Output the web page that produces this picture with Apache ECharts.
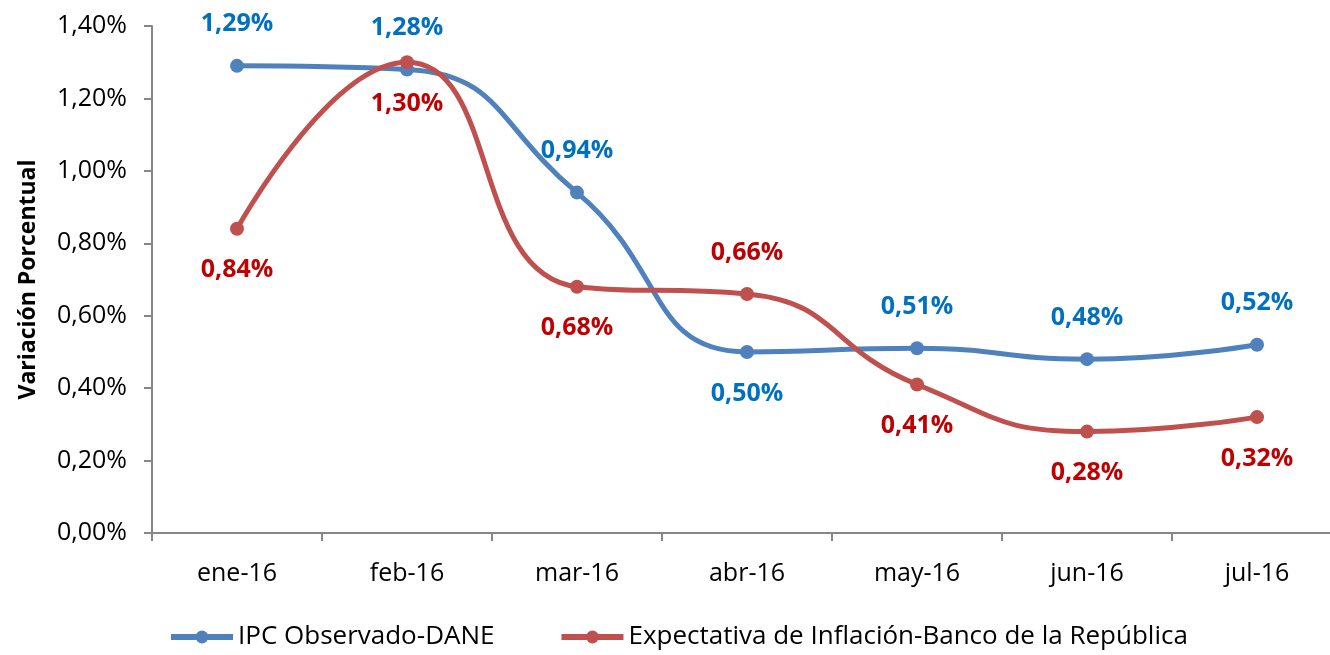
<!DOCTYPE html>
<html>
<head>
<meta charset="utf-8">
<script src="https://cdn.jsdelivr.net/npm/echarts@6/dist/echarts.min.js"></script>
<style>
  html, body { margin: 0; padding: 0; background: #fff; overflow: hidden; }
  #chart { width: 1342px; height: 655px; }
</style>
</head>
<body>
<div id="chart"></div>
<script>
var meses = ['ene-16', 'feb-16', 'mar-16', 'abr-16', 'may-16', 'jun-16', 'jul-16'];
var ipcObservado = [1.29, 1.28, 0.94, 0.50, 0.51, 0.48, 0.52];
var expectativa = [0.84, 1.30, 0.68, 0.66, 0.41, 0.28, 0.32];
// posicion de la etiqueta de cada punto
var posIpc = ['top', 'top', 'top', 'bottom', 'top', 'top', 'top'];
var posExp = ['bottom', 'bottom', 'bottom', 'top', 'bottom', 'bottom', 'bottom'];

var fuente = "'Open Sans', sans-serif";

function pct(v) {
    return v.toFixed(2).replace('.', ',') + '%';
}

function armarDatos(vals, pos, color) {
    return vals.map(function (v, i) {
        return {
            value: v,
            label: { position: pos[i], color: color }
        };
    });
}

// el eje x sigue unos pixeles fuera de la ventana, como en el original
var chart = echarts.init(document.getElementById('chart'));
chart.setOption({
    animation: false,
    textStyle: { fontFamily: fuente },
    grid: { left: 152, top: 26, right: 0, bottom: 122 },
    legend: {
        bottom: 0,
        left: 163,
        itemWidth: 62,
        itemHeight: 16,
        itemGap: 64,
        lineStyle: { width: 6 },
        textStyle: { fontSize: 26, color: '#000', fontFamily: fuente },
        data: ['IPC Observado-DANE', 'Expectativa de Inflación-Banco de la República']
    },
    xAxis: {
        type: 'category',
        data: meses,
        boundaryGap: true,
        axisLine: { lineStyle: { color: '#868686', width: 2 } },
        axisTick: { show: true, length: 8, lineStyle: { color: '#868686', width: 2 } },
        axisLabel: { fontSize: 25, color: '#000', margin: 28 },
        splitLine: { show: false }
    },
    yAxis: {
        type: 'value',
        min: 0,
        max: 1.4,
        interval: 0.2,
        name: 'Variación Porcentual',
        nameLocation: 'middle',
        nameGap: 112,
        nameTextStyle: { fontSize: 23, fontWeight: 'bold', color: '#000' },
        axisLine: { show: true, lineStyle: { color: '#868686', width: 2 } },
        axisTick: { show: true, length: 8, lineStyle: { color: '#868686', width: 2 } },
        axisLabel: { fontSize: 25, color: '#000', margin: 25, formatter: pct },
        splitLine: { show: false }
    },
    series: [
        {
            name: 'IPC Observado-DANE',
            type: 'line',
            smooth: 0.5,
            symbol: 'circle',
            symbolSize: 14,
            lineStyle: { color: '#4F81BD', width: 5 },
            itemStyle: { color: '#4F81BD' },
            label: {
                show: true,
                distance: 22,
                fontSize: 25,
                fontWeight: 'bold',
                formatter: function (p) { return pct(p.value); }
            },
            data: armarDatos(ipcObservado, posIpc, '#0070C0')
        },
        {
            name: 'Expectativa de Inflación-Banco de la República',
            type: 'line',
            smooth: 0.5,
            symbol: 'circle',
            symbolSize: 14,
            lineStyle: { color: '#C0504D', width: 5 },
            itemStyle: { color: '#C0504D' },
            label: {
                show: true,
                distance: 22,
                fontSize: 25,
                fontWeight: 'bold',
                formatter: function (p) { return pct(p.value); }
            },
            data: armarDatos(expectativa, posExp, '#C00000')
        }
    ]
});
</script>
</body>
</html>
